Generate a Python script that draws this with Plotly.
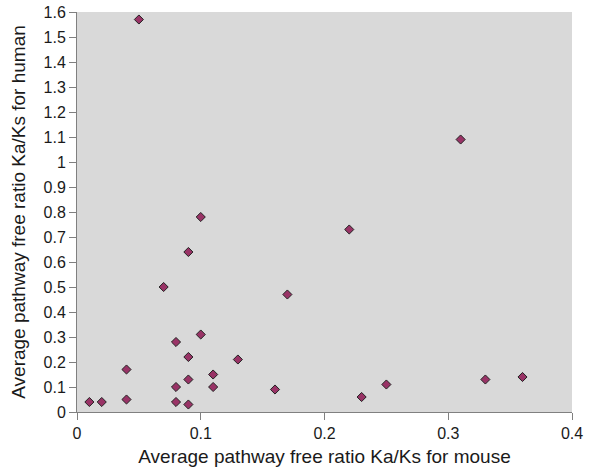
import plotly.graph_objects as go

mouse = [0.05, 0.31, 0.10, 0.22, 0.09, 0.07, 0.17, 0.10, 0.08, 0.09, 0.13, 0.04, 0.11,
         0.09, 0.33, 0.36, 0.08, 0.11, 0.25, 0.16, 0.23, 0.04, 0.01, 0.02, 0.08, 0.09]
human = [1.57, 1.09, 0.78, 0.73, 0.64, 0.50, 0.47, 0.31, 0.28, 0.22, 0.21, 0.17, 0.15,
         0.13, 0.13, 0.14, 0.10, 0.10, 0.11, 0.09, 0.06, 0.05, 0.04, 0.04, 0.04, 0.03]

x_ticks = [0, 0.1, 0.2, 0.3, 0.4]
x_labels = ["0", "0.1", "0.2", "0.3", "0.4"]
y_ticks = [i / 10 for i in range(17)]
y_labels = [f"{v:g}" for v in y_ticks]

fig = go.Figure(go.Scatter(
    x=mouse, y=human, mode="markers",
    marker=dict(symbol="diamond", size=7, color="#993366",
                line=dict(color="#222222", width=1)),
))

font = dict(family="Liberation Sans, Arial, sans-serif", size=16, color="#1a1a1a")

fig.update_layout(
    width=598, height=470,
    margin=dict(l=77, r=26, t=12, b=58),
    paper_bgcolor="white", plot_bgcolor="#D9D9D9",
    showlegend=False, font=font,
    xaxis=dict(range=[0, 0.4], tickvals=x_ticks, ticktext=x_labels, automargin=False,
               showgrid=False, zeroline=False, showline=True, linecolor="#808080",
               ticks="outside", ticklen=7, tickcolor="#808080",
               title=dict(text="Average pathway free ratio Ka/Ks for mouse", standoff=8)),
    yaxis=dict(range=[0, 1.6], tickvals=y_ticks, ticktext=y_labels, automargin=False,
               showgrid=False, zeroline=False, showline=True, linecolor="#808080",
               ticks="outside", ticklen=7, tickcolor="#808080",
               title=dict(text="Average pathway free ratio Ka/Ks for human", standoff=12)),
)

fig.write_html("out.html")
